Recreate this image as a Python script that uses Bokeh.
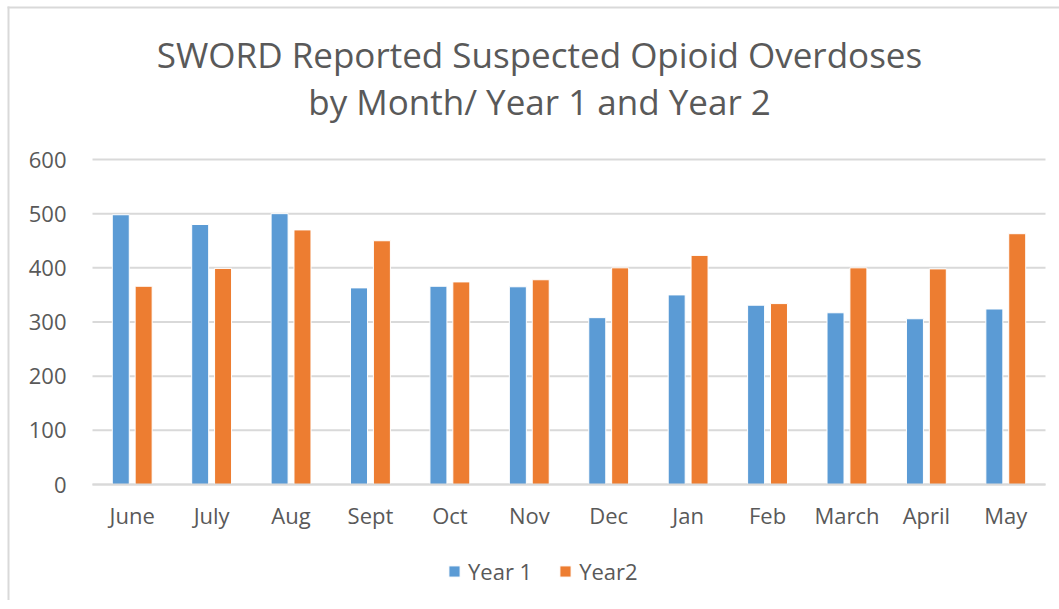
from bokeh.plotting import figure
from bokeh.models import (Label, Legend, LegendItem, ColumnDataSource, FixedTicker,
                          Range1d, BoxAnnotation)
from bokeh.transform import dodge
from bokeh.embed import file_html
from bokeh.resources import INLINE

months = ["June", "July", "Aug", "Sept", "Oct", "Nov", "Dec", "Jan", "Feb", "March", "April", "May"]
year1 = [498, 480, 500, 363, 366, 365, 308, 350, 331, 317, 306, 324]
year2 = [366, 399, 470, 450, 374, 378, 400, 423, 334, 400, 398, 463]
y_ticks = [0, 100, 200, 300, 400, 500, 600]
title_lines = ["SWORD Reported Suspected Opioid Overdoses", "by Month/ Year 1 and Year 2"]
series_names = ["Year 1", "Year2"]

FONT = "Open Sans"
TXT = "#595959"
GRID = "#d9d9d9"

idx = list(range(len(months)))
src = ColumnDataSource(dict(idx=idx, month=months, y1=year1, y2=year2))

# The plot frame covers the whole canvas; category bands run from pixel 92 to 1045,
# the value axis maps 0 -> pixel 484 and 600 -> pixel 159.
W, H = 1059, 600
band = (1045 - 92) / len(months)
pxu = (484 - 159) / 600.0
x_start = -0.5 - 92 / band
x_end = len(months) - 0.5 + (W - 1045) / band
y_start = -(H - 484) / pxu
y_end = 484 / pxu

p = figure(width=W, height=H, x_range=Range1d(x_start, x_end), y_range=Range1d(y_start, y_end),
           output_backend="svg", toolbar_location=None, min_border=0)
p.outline_line_color = None
p.xgrid.grid_line_color = None
p.ygrid.grid_line_color = None

# chart-area border (left and top edges), running off the canvas on the right and bottom
bx0 = x_start + 7 / band
bx1 = x_start + 9 / band
by0 = (484 - 6) / pxu
by1 = (484 - 8) / pxu
p.add_layout(BoxAnnotation(left=bx0, right=bx1, top=by0, bottom=y_start - 20,
                           fill_color=GRID, fill_alpha=1, line_color=None, line_alpha=0,
                           level="underlay"))
p.add_layout(BoxAnnotation(left=bx0, right=x_end + 2, top=by0, bottom=by1,
                           fill_color=GRID, fill_alpha=1, line_color=None, line_alpha=0,
                           level="underlay"))

# horizontal gridlines across the category area
p.segment(x0=-0.5, x1=len(months) - 0.5, y0=y_ticks, y1=y_ticks, line_color=GRID, line_width=2)

r1 = p.vbar(x=dodge("idx", -0.144), top="y1", width=0.214, source=src,
            fill_color="#5b9bd5", line_color="white", line_width=1)
r2 = p.vbar(x=dodge("idx", 0.144), top="y2", width=0.214, source=src,
            fill_color="#ed7d31", line_color="white", line_width=1)

p.yaxis.fixed_location = -0.5
p.yaxis.ticker = FixedTicker(ticks=y_ticks)
p.yaxis.axis_line_color = None
p.yaxis.major_tick_line_color = None
p.yaxis.minor_tick_line_color = None
p.yaxis.major_label_standoff = 20
p.yaxis.major_label_text_font = FONT
p.yaxis.major_label_text_font_size = "22px"
p.yaxis.major_label_text_color = TXT

p.xaxis.fixed_location = 0
p.xaxis.bounds = (-0.5, len(months) - 0.5)
p.xaxis.ticker = FixedTicker(ticks=idx)
p.xaxis.major_label_overrides = {i: m for i, m in zip(idx, months)}
p.xaxis.axis_line_color = GRID
p.xaxis.axis_line_width = 2
p.xaxis.major_tick_line_color = None
p.xaxis.minor_tick_line_color = None
p.xaxis.major_label_standoff = 9
p.xaxis.major_label_text_font = FONT
p.xaxis.major_label_text_font_size = "22px"
p.xaxis.major_label_text_color = TXT

for line, ypos in zip(title_lines, [H - 54, H - 101]):
    p.add_layout(Label(x=539, y=ypos, x_units="screen", y_units="screen", text=line,
                       text_align="center", text_baseline="middle", text_font=FONT,
                       text_font_size="35px", text_color=TXT))

legend = Legend(items=[LegendItem(label=series_names[0], renderers=[r1]),
                       LegendItem(label=series_names[1], renderers=[r2])],
                orientation="horizontal", location=(447, H - 586),
                border_line_color=None, background_fill_alpha=0,
                padding=0, margin=0, spacing=26, label_standoff=7,
                glyph_width=14, glyph_height=14,
                label_text_font=FONT, label_text_font_size="22px", label_text_color=TXT)
p.add_layout(legend, "center")

open("out.html", "w").write(file_html(p, INLINE))
